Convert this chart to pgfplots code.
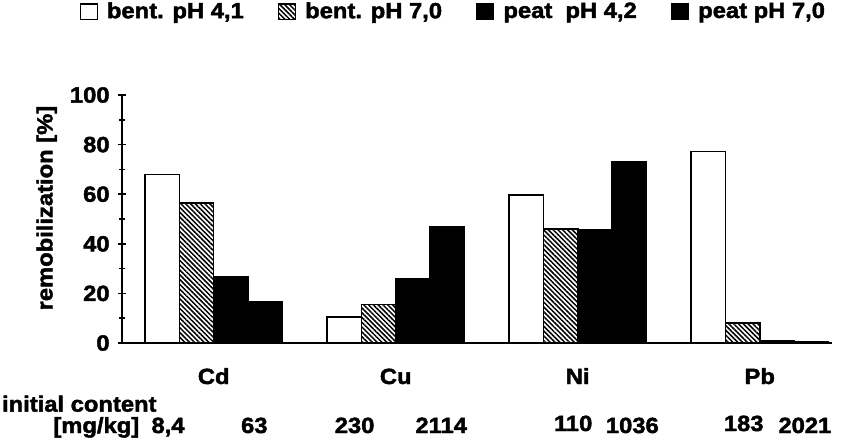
\documentclass[border=0pt]{standalone}
\usepackage{pgfplots}
\pgfplotsset{compat=1.18}
\usepackage{fontspec}
\setmainfont{Liberation Sans}[FakeStretch=1.08, BoldFeatures={FakeBold=2}]
\usetikzlibrary{patterns.meta}
\begin{document}
\fontsize{11}{13}\selectfont\bfseries
\begin{tikzpicture}
\useasboundingbox (-61pt,-51.5pt) rectangle (360.5pt,171.5pt);
\begin{axis}[
  scale only axis,
  width=355pt, height=124pt,
  xmin=-0.504, xmax=3.397,
  ymin=0, ymax=100,
  axis lines=left,
  axis line style={-, line width=0.8pt},
  clip=false,
  xtick={0,1,2,3},
  xticklabels={Cd,Cu,Ni,Pb},
  x tick style={draw=none},
  xticklabel style={anchor=base, yshift=-18.5pt, inner sep=0pt},
  ytick={0,20,40,60,80,100},
  minor y tick num=1,
  y tick style={line width=0.8pt, black},
  tick align=center,
  major tick length=4pt,
  minor tick length=3pt,
  yticklabel style={anchor=east, inner sep=0pt, xshift=-4pt},
  /pgf/number format/assume math mode=true,
  ylabel={remobilization [\%]},
  ylabel style={at={(axis description cs:-0.106,0.544)}, anchor=center, inner sep=0pt},
  legend columns=4,
  legend style={at={(axis description cs:0.468,1.335)}, anchor=center, draw=none, fill=none,
    /tikz/every odd column/.append style={column sep=2.5pt},
    /tikz/every even column/.append style={column sep=15pt}},
  legend cell align=left,
  legend image code/.code={\draw[#1, line width=0.7pt] (0pt,-3.9pt) rectangle (8.5pt,3.9pt);},
]
\addplot[ybar, bar width=17.17pt, bar shift=-25.75pt, draw=black, line width=0.8pt, fill=white]
  coordinates {(0,68) (1,10.5) (2,59.7) (3,77.3)};
\addlegendentry{bent. pH 4,1}
\addplot[ybar, bar width=17.17pt, bar shift=-8.6pt, draw=black, line width=0.8pt,
  pattern={Lines[angle=-45, distance=1.7pt, line width=0.75pt]}, pattern color=black]
  coordinates {(0,56.4) (1,15.5) (2,46) (3,8)};
\addlegendentry{bent. pH 7,0}
\addplot[ybar, bar width=17.17pt, bar shift=8.6pt, draw=black, line width=0.8pt, fill=black]
  coordinates {(0,26.5) (1,26) (2,45.5) (3,1)};
\addlegendentry{peat\ \ pH 4,2}
\addplot[ybar, bar width=17.17pt, bar shift=25.75pt, draw=black, line width=0.8pt, fill=black]
  coordinates {(0,16.8) (1,47) (2,73) (3,0.4)};
\addlegendentry{peat pH 7,0}
% initial content row
\node[anchor=base west, inner sep=0pt, yshift=-34.3pt] at (axis cs:-1.165,0) {initial content};
\node[anchor=base west, inner sep=0pt, yshift=-45pt] at (axis cs:-0.883,0) {[mg/kg]};
\node[anchor=base, inner sep=0pt, yshift=-45pt] at (axis cs:-0.251,0) {8,4};
\node[anchor=base, inner sep=0pt, yshift=-45pt] at (axis cs:0.223,0) {63};
\node[anchor=base, inner sep=0pt, yshift=-45pt] at (axis cs:0.774,0) {230};
\node[anchor=base, inner sep=0pt, yshift=-45pt] at (axis cs:1.25,0) {2114};
\node[anchor=base, inner sep=0pt, yshift=-44pt] at (axis cs:1.975,0) {110};
\node[anchor=base, inner sep=0pt, yshift=-45pt] at (axis cs:2.30,0) {1036};
\node[anchor=base, inner sep=0pt, yshift=-44pt] at (axis cs:2.912,0) {183};
\node[anchor=base, inner sep=0pt, yshift=-45pt] at (axis cs:3.248,0) {2021};
\end{axis}
\end{tikzpicture}
\end{document}
